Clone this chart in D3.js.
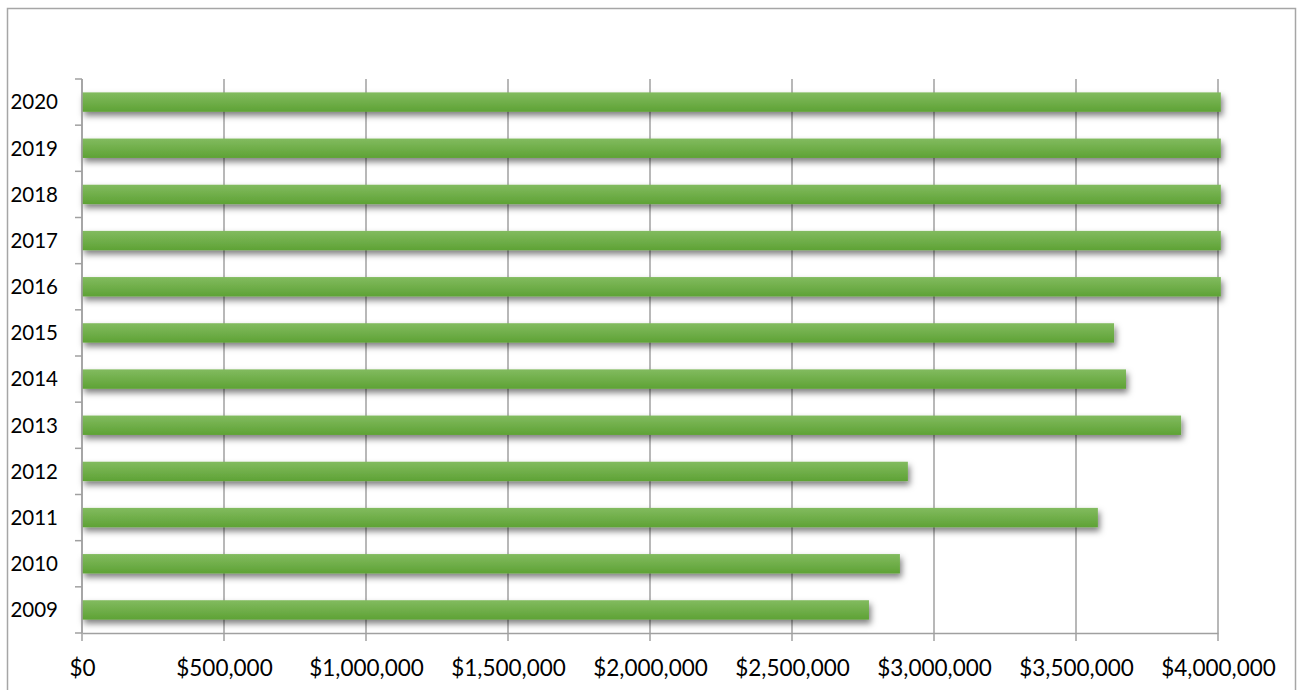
<!DOCTYPE html>
<html><head>
<meta charset="utf-8">
<title>Bar chart</title>
<script src="https://d3js.org/d3.v7.min.js"></script>
<style>
  body { margin: 0; background: #fff; }
  svg { display: block; }
  .tick text { font-family: Lato, "Open Sans", sans-serif; fill: #000; }
</style>
</head>
<body>
<div id="chart"></div>
<script>

// data
var years = ["2009", "2010", "2011", "2012", "2013", "2014", "2015", "2016", "2017", "2018", "2019", "2020"];
var amounts = [2771000, 2880000, 3577000, 2908000, 3870000, 3676000, 3634000, 4010000, 4010000, 4010000, 4010000, 4010000];
var xTicks = [0, 500000, 1000000, 1500000, 2000000, 2500000, 3000000, 3500000, 4000000];

var W = 1297, H = 690;
var margin = {top: 79, right: 79, bottom: 57, left: 82};
var width = W - margin.left - margin.right;
var height = H - margin.top - margin.bottom;

var root = d3.select("#chart").append("svg")
  .attr("width", W)
  .attr("height", H);

// chart border
root.append("rect")
  .attr("x", 7.5).attr("y", 8.5)
  .attr("width", 1288).attr("height", 700)
  .attr("fill", "none")
  .attr("stroke", "#a6a6a6")
  .attr("stroke-width", 1.5);

var defs = root.append("defs");
var grad = defs.append("linearGradient")
  .attr("id", "barGrad")
  .attr("x1", 0).attr("y1", 0).attr("x2", 0).attr("y2", 1);
grad.append("stop").attr("offset", "0%").attr("stop-color", "#82bb5f");
grad.append("stop").attr("offset", "100%").attr("stop-color", "#5ea235");

var shadow = defs.append("filter")
  .attr("id", "shadow")
  .attr("x", "-5%").attr("y", "-50%")
  .attr("width", "110%").attr("height", "250%");
shadow.append("feDropShadow")
  .attr("dx", 2).attr("dy", 4)
  .attr("stdDeviation", 3)
  .attr("flood-color", "#000")
  .attr("flood-opacity", 0.5);

var svg = root.append("g")
  .attr("transform", "translate(" + margin.left + "," + margin.top + ")");

var x = d3.scaleLinear()
  .domain([0, 4000000])
  .range([0, width]);

var y = d3.scaleBand()
  .domain(years.slice().reverse())
  .range([0, height])
  .paddingInner(0.58)
  .paddingOuter(0.29);

// vertical gridlines
svg.append("g")
  .selectAll("line")
  .data(xTicks)
  .enter().append("line")
    .attr("x1", function(d) { return x(d); })
    .attr("x2", function(d) { return x(d); })
    .attr("y1", 0)
    .attr("y2", height + 8)
    .attr("stroke", "#a0a0a0")
    .attr("stroke-width", 1.5);

// x axis
var xAxis = d3.axisBottom(x)
  .tickValues(xTicks)
  .tickSize(0)
  .tickPadding(27)
  .tickFormat(function(d) { return "$" + d3.format(",")(d); });

var gx = svg.append("g")
  .attr("transform", "translate(0," + height + ")")
  .call(xAxis);
gx.select(".domain").attr("stroke", "#a0a0a0").attr("stroke-width", 1.5);
gx.selectAll(".tick text").style("font-size", "22.5px");

// bars
svg.append("g")
  .selectAll("rect")
  .data(years)
  .enter().append("rect")
    .attr("x", x(0))
    .attr("y", function(d) { return y(d); })
    .attr("width", function(d, i) { return x(amounts[i]); })
    .attr("height", y.bandwidth())
    .attr("fill", "url(#barGrad)")
    .attr("filter", "url(#shadow)");

// y axis: ticks sit on the band boundaries
var step = y.step();
var bounds = d3.range(years.length + 1).map(function(i) { return i * step; });
var gy = svg.append("g");
gy.append("line")
  .attr("x1", 0).attr("x2", 0)
  .attr("y1", 0).attr("y2", height)
  .attr("stroke", "#a0a0a0").attr("stroke-width", 1.5);
gy.selectAll("line.bt")
  .data(bounds)
  .enter().append("line")
    .attr("class", "bt")
    .attr("x1", -7).attr("x2", 0)
    .attr("y1", function(d) { return d; })
    .attr("y2", function(d) { return d; })
    .attr("stroke", "#a0a0a0").attr("stroke-width", 1.5);
gy.selectAll("text")
  .data(years)
  .enter().append("text")
    .attr("x", -24)
    .attr("y", function(d) { return y(d) + y.bandwidth() / 2; })
    .attr("dy", "0.36em")
    .attr("text-anchor", "end")
    .style("font-family", "Lato, 'Open Sans', sans-serif")
    .style("font-size", "20.5px")
    .text(function(d) { return d; });

</script>
</body></html>
